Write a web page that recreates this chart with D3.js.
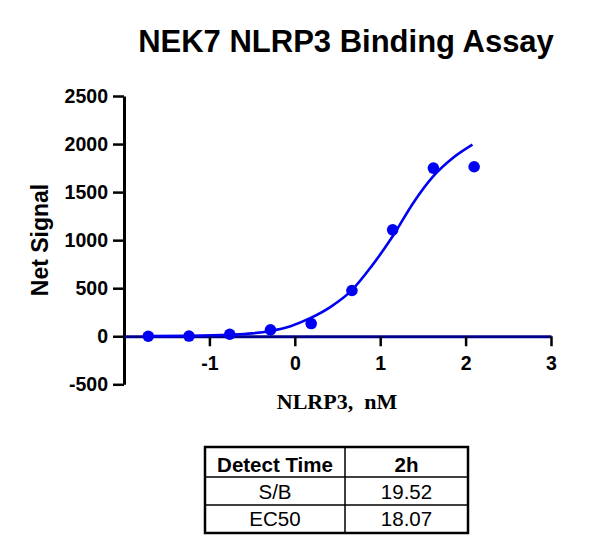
<!DOCTYPE html>
<html>
<head>
<meta charset="utf-8">
<script src="https://cdn.jsdelivr.net/npm/d3@7"></script>
<style>
  body { margin: 0; background: #fff; }
  svg { display: block; }
  text { font-family: "Liberation Sans", Arial, sans-serif; }
</style>
</head>
<body>
<svg id="chart" width="607" height="557"></svg>
<script>
// log10 of NLRP3 concentration (nM), 3-fold dilutions
var logConc = [-1.716, -1.239, -0.762, -0.285, 0.192, 0.669, 1.146, 1.623, 2.100];
var netSignal = [0, 2, 21, 66, 132, 476, 1107, 1750, 1764];

// fitted curve
var fitX = [-1.72, -1.24, -0.77, -0.5, -0.29, -0.05, 0.18, 0.42, 0.66, 0.9, 1.15, 1.385, 1.62, 1.85, 2.08];
var fitY = [1, 4, 15, 30, 55, 105, 188, 306, 472, 730, 1045, 1385, 1663, 1854, 1993];

var yTicks = [-500, 0, 500, 1000, 1500, 2000, 2500];
var xTicks = [-1, 0, 1, 2, 3];

var tableHead = ["Detect Time", "2h"];
var tableRows = [["S/B", "19.52"], ["EC50", "18.07"]];

var blue = "#0000f2";
var svg = d3.select("#chart");

var x = d3.scaleLinear().domain([-2, 3]).range([124, 551]);
var y = d3.scaleLinear().domain([-500, 2500]).range([384.3, 96]);

// plain integers with an ascii minus, like the original
var fmt = function(d) { return String(d); };

// title
svg.append("text")
	.attr("x", 346).attr("y", 52)
	.attr("text-anchor", "middle")
	.attr("font-size", 31).attr("font-weight", "bold")
	.text("NEK7 NLRP3 Binding Assay");

// y axis
var gy = svg.append("g")
	.attr("transform", "translate(" + x(-2) + ",0)")
	.call(d3.axisLeft(y).tickValues(yTicks).tickFormat(fmt).tickSize(11).tickSizeOuter(0).tickPadding(5));
gy.select(".domain").attr("stroke", "#000").attr("stroke-width", 3);
gy.selectAll(".tick line").attr("stroke", "#000").attr("stroke-width", 2.5);
gy.selectAll(".tick text")
	.attr("font-size", 19.5).attr("font-weight", "bold").attr("fill", "#000")
	.style("font-family", "Liberation Sans, Arial, sans-serif");

// x axis at y = 0
var gx = svg.append("g")
	.attr("transform", "translate(0," + y(0) + ")")
	.call(d3.axisBottom(x).tickValues(xTicks).tickFormat(fmt).tickSize(10).tickSizeOuter(0).tickPadding(10));
gx.select(".domain").attr("stroke", "#00008a").attr("stroke-width", 3);
gx.selectAll(".tick line").attr("stroke", "#000").attr("stroke-width", 2.5);
gx.selectAll(".tick text")
	.attr("font-size", 19.5).attr("font-weight", "bold").attr("fill", "#000")
	.style("font-family", "Liberation Sans, Arial, sans-serif");

// axis titles
svg.append("text")
	.attr("transform", "translate(48,240) rotate(-90)")
	.attr("text-anchor", "middle")
	.attr("font-size", 23).attr("font-weight", "bold")
	.text("Net Signal");

svg.append("text")
	.attr("x", 337).attr("y", 409)
	.attr("text-anchor", "middle")
	.attr("font-size", 22).attr("font-weight", "bold")
	.style("font-family", "Liberation Serif, 'Times New Roman', serif")
	.style("white-space", "pre")
	.text("NLRP3,  nM");

// fit curve
var fit = fitX.map(function(v, i) { return [v, fitY[i]]; });
var line = d3.line()
	.x(function(d) { return x(d[0]); })
	.y(function(d) { return y(d[1]); })
	.curve(d3.curveMonotoneX);

svg.append("path")
	.datum(fit)
	.attr("fill", "none")
	.attr("stroke", blue)
	.attr("stroke-width", 2.6)
	.attr("d", line);

// data points
svg.selectAll("circle.pt")
	.data(logConc)
	.enter().append("circle")
	.attr("class", "pt")
	.attr("cx", function(d) { return x(d); })
	.attr("cy", function(d, i) { return y(netSignal[i]); })
	.attr("r", 5.8)
	.attr("fill", blue);

// results table
var tX = [205, 345, 468];
var tY = [447, 477, 505, 533];
var tb = svg.append("g");

tb.append("rect")
	.attr("x", tX[0]).attr("y", tY[0])
	.attr("width", tX[2] - tX[0]).attr("height", tY[3] - tY[0])
	.attr("fill", "none").attr("stroke", "#000").attr("stroke-width", 2.5);
tb.append("line")
	.attr("x1", tX[1]).attr("x2", tX[1]).attr("y1", tY[0]).attr("y2", tY[3])
	.attr("stroke", "#000").attr("stroke-width", 1.5);
[tY[1], tY[2]].forEach(function(v) {
	tb.append("line")
		.attr("x1", tX[0]).attr("x2", tX[2]).attr("y1", v).attr("y2", v)
		.attr("stroke", "#000").attr("stroke-width", 1.3);
});

var cx = [(tX[0] + tX[1]) / 2, (tX[1] + tX[2]) / 2];
var baselines = [472, 499, 526];
[tableHead].concat(tableRows).forEach(function(row, r) {
	row.forEach(function(cell, c) {
		tb.append("text")
			.attr("x", cx[c]).attr("y", baselines[r])
			.attr("text-anchor", "middle")
			.attr("font-size", 20.5)
			.attr("font-weight", r == 0 ? "bold" : "normal")
			.text(cell);
	});
});
</script>
</body>
</html>
